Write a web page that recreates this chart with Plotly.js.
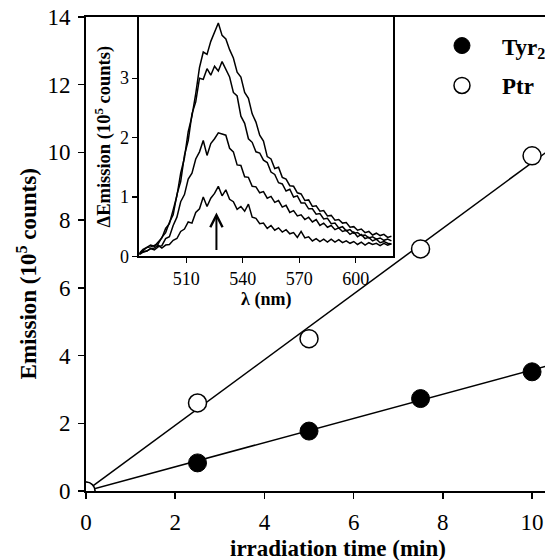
<!DOCTYPE html>
<html>
<head>
<meta charset="utf-8">
<script src="https://cdn.plot.ly/plotly-3.0.1.min.js"></script>
<style>body{margin:0;padding:0;background:#fff;} #chart{width:545px;height:560px;}</style>
</head>
<body>
<div id="chart"></div>
<script>
// Main chart data
const timeMin = [0, 2.5, 5, 7.5, 10];
const tyr2Emission = [0, 0.83, 1.77, 2.73, 3.52];
const ptrEmission = [0, 2.6, 4.5, 7.15, 9.9];
// Fitted lines (endpoints)
const fitTime = [0, 11];
const tyr2Fit = [0, 3.93];
const ptrFit = [0, 10.67];

// Inset spectra data
const wavelength = [485,487,489,491,493,495,497,499,501,503,505,507,509,511,513,515,517,519,521,523,525,527,529,531,533,535,537,539,541,543,545,547,549,551,553,555,557,559,561,563,565,567,569,571,573,575,577,579,581,583,585,587,589,591,593,595,597,599,601,603,605,607,609,611,613,615,617,619];
const spec10 = [0.05,0.12,0.15,0.19,0.17,0.25,0.31,0.47,0.55,0.78,1.02,1.40,1.66,2.10,2.36,2.74,3.18,3.44,3.40,3.62,3.76,3.93,3.72,3.66,3.48,3.34,3.10,3.02,2.76,2.66,2.40,2.26,2.04,1.94,1.68,1.64,1.48,1.50,1.33,1.30,1.19,1.18,1.07,1.05,0.94,0.95,0.84,0.85,0.76,0.77,0.68,0.69,0.61,0.62,0.56,0.57,0.49,0.50,0.44,0.46,0.40,0.42,0.36,0.39,0.35,0.37,0.32,0.34];
const spec75 = [0.04,0.09,0.15,0.16,0.19,0.21,0.32,0.40,0.57,0.70,1.04,1.26,1.70,1.95,2.40,2.60,3.00,2.98,3.16,3.05,3.20,3.12,3.28,3.14,3.02,2.76,2.70,2.36,2.24,1.98,1.92,1.76,1.74,1.62,1.58,1.42,1.38,1.24,1.22,1.10,1.13,1.00,1.02,0.90,0.90,0.80,0.80,0.71,0.72,0.63,0.64,0.55,0.56,0.48,0.50,0.43,0.45,0.39,0.40,0.35,0.36,0.31,0.33,0.29,0.31,0.27,0.29,0.26];
const spec5 = [0.04,0.08,0.09,0.13,0.11,0.16,0.18,0.30,0.33,0.52,0.66,0.92,1.04,1.30,1.40,1.64,1.76,1.95,1.70,1.90,1.98,2.08,2.06,2.04,1.82,1.76,1.54,1.53,1.34,1.33,1.18,1.17,1.07,1.09,0.98,1.01,0.91,0.94,0.83,0.86,0.74,0.77,0.68,0.70,0.62,0.66,0.58,0.62,0.52,0.56,0.49,0.52,0.45,0.48,0.42,0.44,0.37,0.41,0.33,0.37,0.30,0.32,0.26,0.29,0.23,0.25,0.22,0.21];
const spec25 = [0.03,0.07,0.09,0.13,0.14,0.19,0.14,0.19,0.20,0.27,0.30,0.42,0.46,0.58,0.56,0.74,0.80,1.00,0.84,0.98,1.06,1.18,1.02,1.12,0.96,0.92,0.79,0.84,0.76,0.88,0.66,0.64,0.55,0.56,0.47,0.52,0.44,0.48,0.41,0.45,0.38,0.40,0.32,0.42,0.31,0.33,0.26,0.30,0.25,0.29,0.24,0.29,0.24,0.28,0.23,0.26,0.22,0.25,0.20,0.24,0.19,0.23,0.20,0.22,0.18,0.22,0.19,0.21];
const arrowX = 526;
const arrowY = [0.08, 0.74];

const serif = "'Liberation Serif', 'Times New Roman', serif";
const lineStyle = {color: 'black', width: 1.5};

const traces = [
  {x: fitTime, y: ptrFit, mode: 'lines', line: lineStyle, showlegend: false, hoverinfo: 'skip'},
  {x: fitTime, y: tyr2Fit, mode: 'lines', line: lineStyle, showlegend: false, hoverinfo: 'skip'},
  {x: timeMin, y: tyr2Emission, mode: 'markers', name: '<b>Tyr<sub>2</sub></b>', legendgroup: 'a',
   marker: {symbol: 'circle', size: 18, color: 'black', line: {color: 'black', width: 1}}},
  {x: timeMin, y: ptrEmission, mode: 'markers', name: '<b>Ptr</b>', legendgroup: 'b',
   marker: {symbol: 'circle', size: 18, color: 'white', line: {color: 'black', width: 1.5}}},
];
[spec10, spec75, spec5, spec25].forEach(s => {
  traces.push({x: wavelength, y: s, xaxis: 'x2', yaxis: 'y2', mode: 'lines',
    line: {color: 'black', width: 1.5}, showlegend: false, hoverinfo: 'skip'});
});

const titleFont = {family: serif, size: 23, color: 'black'};

const layout = {
  width: 545, height: 560,
  margin: {l: 86, r: 0, t: 17, b: 69, autoexpand: false},
  paper_bgcolor: 'white', plot_bgcolor: 'white',
  font: {family: serif, color: 'black'},
  showlegend: true,
  legend: {x: 0.732, y: 0.985, xanchor: 'left', yanchor: 'top', itemwidth: 70,
    font: {family: serif, size: 23, color: 'black'}, bgcolor: 'rgba(0,0,0,0)',
    traceorder: 'grouped', tracegroupgap: 7},
  xaxis: {range: [0, 10.29], tickvals: [0, 2, 4, 6, 8, 10], ticks: 'outside', ticklen: 6,
    tickwidth: 1.5, tickcolor: 'black', showline: true, linewidth: 2, linecolor: 'black',
    mirror: true, showgrid: false, zeroline: false, automargin: false, ticklabelstandoff: 3,
    tickfont: {family: serif, size: 23, color: 'black'}},
  yaxis: {range: [0, 14], tickvals: [0, 2, 4, 6, 8, 10, 12, 14], ticks: 'outside', ticklen: 6,
    tickwidth: 1.5, tickcolor: 'black', showline: true, linewidth: 2, linecolor: 'black',
    showgrid: false, zeroline: false, automargin: false, ticklabelstandoff: 3,
    tickfont: {family: serif, size: 23, color: 'black'}},
  xaxis2: {domain: [0.1161, 0.6695], anchor: 'y2', range: [485, 620], tickvals: [510, 540, 570, 600],
    ticks: 'outside', ticklen: 5, tickwidth: 1.2, tickcolor: 'black', showline: true, linewidth: 1.8,
    linecolor: 'black', mirror: true, showgrid: false, zeroline: false,
    tickfont: {family: serif, size: 18, color: 'black'},
    title: {text: '<b>λ (nm)</b>', font: {family: serif, size: 18, color: 'black'}, standoff: 0}},
  yaxis2: {domain: [0.495, 1.0], anchor: 'x2', range: [0, 4.03], tickvals: [0, 1, 2, 3],
    ticks: 'outside', ticklen: 5, tickwidth: 1.2, tickcolor: 'black', showline: true, linewidth: 1.8,
    linecolor: 'black', mirror: true, showgrid: false, zeroline: false,
    tickfont: {family: serif, size: 18, color: 'black'},
    title: {text: '<b>ΔEmission (10<sup>5</sup> counts)</b>', font: {family: serif, size: 18.5, color: 'black'}, standoff: 4}},
  annotations: [
    {x: arrowX, y: arrowY[1], ax: arrowX, ay: arrowY[0], xref: 'x2', yref: 'y2',
     axref: 'x2', ayref: 'y2', text: '', showarrow: true, arrowhead: 5, arrowsize: 1.2,
     arrowwidth: 2, arrowcolor: 'black'},
    {text: '<b>irradiation time (min)</b>', xref: 'paper', yref: 'paper', x: 0.549, y: -0.121,
     xanchor: 'center', yanchor: 'middle', showarrow: false, font: titleFont},
    {text: '<b>Emission (10<sup>5</sup> counts)</b>', xref: 'paper', yref: 'paper', x: -0.1285, y: 0.457,
     xanchor: 'center', yanchor: 'middle', textangle: -90, showarrow: false, font: titleFont}
  ]
};

Plotly.newPlot('chart', traces, layout, {displayModeBar: false, staticPlot: true});
</script>
</body>
</html>
